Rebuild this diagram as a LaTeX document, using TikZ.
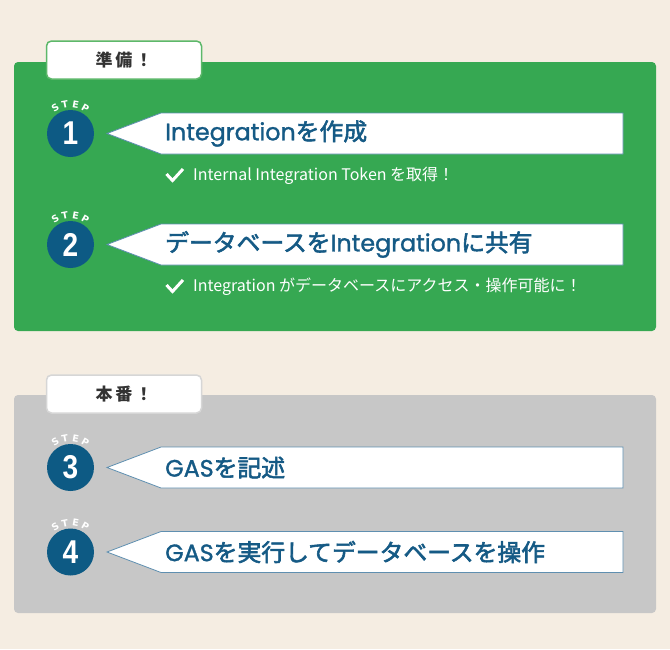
\documentclass[tikz,border=0pt]{standalone}
\usepackage{fontspec}
\setmainfont{Noto Sans CJK JP}
\newfontfamily\numfont{Liberation Sans}
\newfontfamily\stepfont{DejaVu Sans}
\newfontface\medfont{Noto Sans CJK JP}[FakeBold=2.4]
\newfontface\latT{Poppins}[FakeBold=1.2]
\usetikzlibrary{calc}
\definecolor{bgc}{HTML}{F5EDE2}
\definecolor{grn}{HTML}{36A852}
\definecolor{grnline}{HTML}{5DB86A}
\definecolor{gry}{HTML}{C7C7C7}
\definecolor{gryline}{HTML}{D6D6D6}
\definecolor{navy}{HTML}{0D5A84}
\definecolor{ttl}{HTML}{155A85}
\definecolor{arrline}{HTML}{5F8FB0}
\definecolor{tabtext}{HTML}{333333}
\tikzset{
  panelbox/.style={rounded corners=4pt},
  tabbox/.style={draw, line width=1.5pt, fill=white, rounded corners=5pt,
    minimum width=155pt, minimum height=38pt, inner sep=0pt,
    font=\fontsize{17}{17}\selectfont\bfseries, text=tabtext},
  badge/.style={circle, fill=navy, minimum size=47pt, inner sep=0pt},
  badgenum/.style={font=\numfont\fontsize{33}{33}\selectfont\bfseries, text=white,
    inner sep=0pt, xscale=0.85},
  steplet/.style={font=\stepfont\fontsize{9.5}{9.5}\selectfont\bfseries, text=white, inner sep=0pt},
  arrowshape/.style={draw=arrline, line width=0.8pt, fill=white},
  titletext/.style={anchor=west, inner sep=0pt, text=ttl,
    font=\medfont\fontsize{23.8}{23.8}\selectfont},
  checkmark/.style={draw=white, line width=3pt, line cap=butt, line join=miter},
  checktext/.style={anchor=west, inner sep=0pt, text=white,
    font=\fontsize{16}{16}\selectfont}
}
\begin{document}
\begin{tikzpicture}[x=1pt,y=-1pt]
\useasboundingbox (0,0) rectangle (670,649);
\fill[bgc] (0,0) rectangle (670,649);

% panels
\fill[grn, panelbox] (14,62) rectangle (656,331);
\fill[gry, panelbox] (14,395) rectangle (656,613);
\node[tabbox, draw=grnline] (tab1) at (124,60) {準\hspace{3pt}備\hspace{3pt}！};
\node[tabbox, draw=gryline] (tab2) at (124,394) {本\hspace{3pt}番\hspace{3pt}！};

% steps
\foreach \n/\y/\t in {1/133.5/{{\latT Integration}を作成},
                      2/244.5/{データベースを{\latT Integration}に共有},
                      3/467.5/{{\latT GAS}を記述},
                      4/552/{{\latT GAS}を実行してデータベースを操作}} {
  \draw[arrowshape] (107,\y) -- (161,\y-20.5) -- (623,\y-20.5)
        -- (623,\y+20.5) -- (161,\y+20.5) -- cycle;
  \node[badge] (c\n) at (70.5,\y) {};
  \node[badgenum] (d\n) at (c\n) {\n};
  \foreach \l/\a in {S/121,T/101,E/80,P/60} {
    \node[steplet, rotate=\a-90] at ($(c\n)+(-\a:29.5)$) {\l};
  }
  \node[titletext] (t\n) at (165,\y) {\t};
}

% check lines
\foreach \k/\y/\t in {1/175.5/{Internal Integration Token を取得！},
                      2/286.5/{Integration がデータベースにアクセス・操作可能に！}} {
  \draw[checkmark] (166.5,\y-1.5) -- (172.5,\y+5) -- (183,\y-6.5);
  \node[checktext] (k\k) at (193,\y) {\t};
}
\end{tikzpicture}
\end{document}
